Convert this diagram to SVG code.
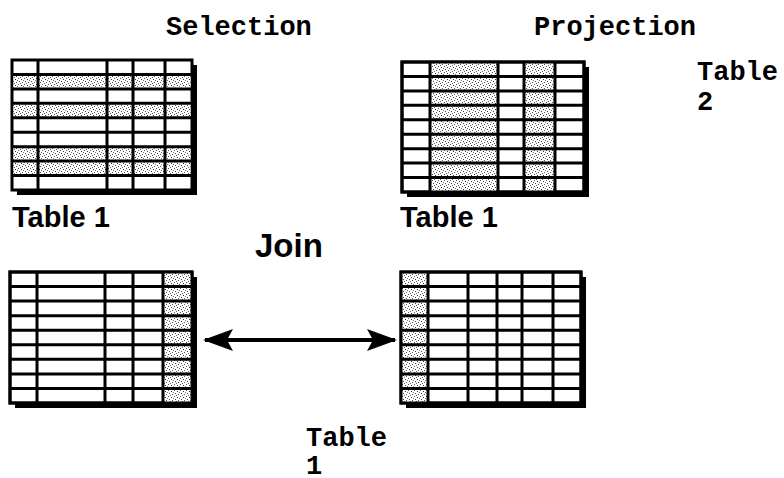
<svg xmlns="http://www.w3.org/2000/svg" width="784" height="478" viewBox="0 0 784 478">
<style>
.mono{font-family:"Liberation Mono","Courier New",monospace;font-weight:bold;fill:#000}
.sans{font-family:"Liberation Sans",Arial,sans-serif;font-weight:bold;fill:#000}
.frame{fill:#fff;stroke:#000;stroke-width:3}
.shadow{fill:#000}
.grid{stroke:#000;stroke-width:3;fill:none}
.shade{fill:url(#dots)}
</style>
<defs>
<pattern id="dots" width="6" height="6" patternUnits="userSpaceOnUse">
<rect width="6" height="6" fill="#fff"/>
<rect x="0" y="0" width="1" height="1" fill="#555"/>
<rect x="3" y="1" width="1" height="1" fill="#333"/>
<rect x="1" y="3" width="1" height="1" fill="#444"/>
<rect x="4" y="4" width="1" height="1" fill="#555"/>
<rect x="2" y="5" width="1" height="1" fill="#666"/>
<rect x="5" y="2" width="1" height="1" fill="#777"/>
</pattern>
<marker id="head" viewBox="0 0 30 22" refX="28" refY="11" markerWidth="30" markerHeight="22" markerUnits="userSpaceOnUse" orient="auto-start-reverse">
<path d="M0,0 L30,11 L0,22 L6,11 Z" fill="#000"/>
</marker>
</defs>

<text class="mono" x="166" y="35" font-size="27">Selection</text>
<text class="mono" x="534" y="35" font-size="27">Projection</text>
<text class="mono" x="697" y="80" font-size="27">Table</text>
<text class="mono" x="697" y="110" font-size="27">2</text>

<g id="table-selection">
<rect class="shadow" x="17" y="65" width="180" height="130"/>
<rect class="frame" x="12" y="60" width="180" height="130"/>
<rect class="shade" x="13.5" y="75.9" width="177" height="11.4"/>
<rect class="shade" x="13.5" y="104.8" width="177" height="11.4"/>
<rect class="shade" x="13.5" y="148.1" width="177" height="11.4"/>
<rect class="shade" x="13.5" y="162.6" width="177" height="11.4"/>
<path class="grid" d="M38,60V190M107,60V190M133,60V190M165,60V190M12,74.4H192M12,88.9H192M12,103.3H192M12,117.8H192M12,132.2H192M12,146.7H192M12,161.1H192M12,175.6H192"/>
<text class="sans" x="12" y="227" font-size="29">Table 1</text>
</g>

<g id="table-projection">
<rect class="shadow" x="407" y="67" width="182" height="130"/>
<rect class="frame" x="402" y="62" width="182" height="130"/>
<rect class="shade" x="430" y="62" width="68" height="130"/>
<rect class="shade" x="524" y="62" width="31" height="130"/>
<path class="grid" d="M430,62V192M498,62V192M524,62V192M555,62V192M402,76.4H584M402,90.9H584M402,105.3H584M402,119.8H584M402,134.2H584M402,148.7H584M402,163.1H584M402,177.6H584"/>
<rect x="402" y="62" width="182" height="130" fill="none" stroke="#000" stroke-width="3"/>
<text class="sans" x="400" y="227" font-size="29">Table 1</text>
</g>

<text class="sans" x="255" y="257" font-size="33">Join</text>

<g id="table-join-left">
<rect class="shadow" x="15" y="277" width="182" height="131"/>
<rect class="frame" x="10" y="272" width="182" height="131"/>
<rect class="shade" x="163" y="272" width="29" height="131"/>
<path class="grid" d="M37,272V403M105,272V403M133,272V403M163,272V403M10,286.6H192M10,301.1H192M10,315.7H192M10,330.2H192M10,344.8H192M10,359.3H192M10,373.9H192M10,388.4H192"/>
<rect x="10" y="272" width="182" height="131" fill="none" stroke="#000" stroke-width="3"/>
</g>

<g id="table-join-right">
<rect class="shadow" x="406" y="277" width="180" height="131"/>
<rect class="frame" x="401" y="272" width="180" height="131"/>
<rect class="shade" x="401" y="272" width="27" height="131"/>
<path class="grid" d="M428,272V403M468,272V403M497,272V403M522,272V403M553,272V403M401,286.6H581M401,301.1H581M401,315.7H581M401,330.2H581M401,344.8H581M401,359.3H581M401,373.9H581M401,388.4H581"/>
<rect x="401" y="272" width="180" height="131" fill="none" stroke="#000" stroke-width="3"/>
</g>

<g id="connectors">
<line x1="205" y1="340" x2="395" y2="340" stroke="#000" stroke-width="4" marker-start="url(#head)" marker-end="url(#head)"/>
</g>

<text class="mono" x="306" y="446" font-size="27">Table</text>
<text class="mono" x="306" y="474" font-size="27">1</text>
</svg>
